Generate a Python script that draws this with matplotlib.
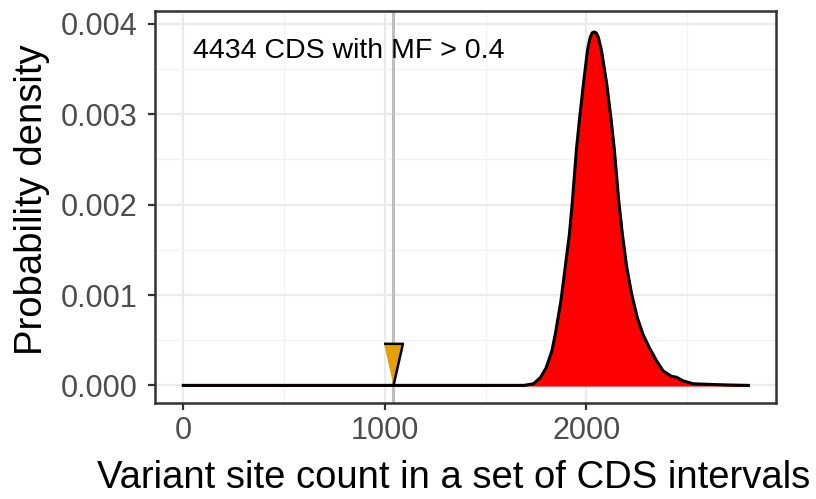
import matplotlib.pyplot as plt
import numpy as np
from matplotlib.ticker import MultipleLocator

plt.rcParams['font.family'] = ['Liberation Sans', 'DejaVu Sans']

# density of variant site counts (x: count, y: probability density)
count = [0, 1000, 1690, 1737, 1771, 1800, 1828, 1845, 1873, 1894, 1915, 1930,
         1950, 1967, 1985, 2005, 2018, 2028, 2038, 2048, 2059, 2074, 2100, 2120,
         2138, 2160, 2178, 2200, 2224, 2252, 2281, 2311, 2348, 2380, 2422, 2447,
         2479, 2529, 2611, 2710, 2803]
density = [0, 0, 0, 0.000018, 0.000085, 0.000195, 0.000379, 0.000564, 0.000932,
           0.00130, 0.001668, 0.002036, 0.00261, 0.00298, 0.00334, 0.00371,
           0.00385, 0.00390, 0.00391, 0.00390, 0.00385, 0.00371, 0.00334, 0.00298,
           0.00261, 0.00204, 0.00167, 0.00130, 0.00101, 0.00075, 0.00056, 0.00042,
           0.00027, 0.00016, 0.00010, 0.00009, 0.00005, 0.000018, 0.000011,
           0.000004, 0]

observed = 1040
label = "4434 CDS with MF > 0.4"

fig = plt.figure(figsize=(8.16, 4.99), dpi=100)
ax = fig.add_axes([0.19, 0.192, 0.761, 0.785])

ax.set_xlim(-140, 2940)
ax.set_ylim(-0.000197, 0.004137)

# theme_bw style grid
ax.xaxis.set_major_locator(MultipleLocator(1000))
ax.xaxis.set_minor_locator(MultipleLocator(500))
ax.yaxis.set_major_locator(MultipleLocator(0.001))
ax.yaxis.set_minor_locator(MultipleLocator(0.0005))
ax.grid(which='major', color='#EBEBEB', lw=1.6)
ax.grid(which='minor', color='#F2F2F2', lw=0.9)
ax.set_axisbelow(True)

ax.axvline(observed, color='#BEBEBE', lw=2.2, zorder=1)

ax.fill_between(count, density, color='red', zorder=2)
ax.plot(count, density, color='black', lw=2.2, zorder=3, solid_joinstyle='round')

tri = [(-9.5, 42), (9.5, 42), (0, 0)]
ax.plot([observed], [0], marker=tri, markersize=60, color='#E69F00',
        markeredgecolor='black', markeredgewidth=1.8, zorder=4, clip_on=False)

ax.text(50, 0.00370, label, fontsize=20.5, va='center', ha='left')

for s in ax.spines.values():
    s.set_color('#333333')
    s.set_linewidth(1.8)

ax.tick_params(which='major', length=5, width=1.6, color='#333333',
               labelcolor='#4D4D4D', labelsize=22)
ax.tick_params(axis='x', which='major', pad=4)
ax.tick_params(axis='y', which='major', pad=7.5)
ax.tick_params(which='minor', length=0)
ax.yaxis.set_major_formatter(plt.FuncFormatter(lambda v, p: f"{v:.3f}"))

ax.set_xlabel("Variant site count in a set of CDS intervals", fontsize=27.5)
ax.set_ylabel("Probability density", fontsize=27.5)
ax.xaxis.set_label_coords(0.4815, -0.145, transform=ax.transAxes)
ax.yaxis.set_label_coords(-0.169, 0.52, transform=ax.transAxes)

fig.savefig('out.png', dpi=100)
